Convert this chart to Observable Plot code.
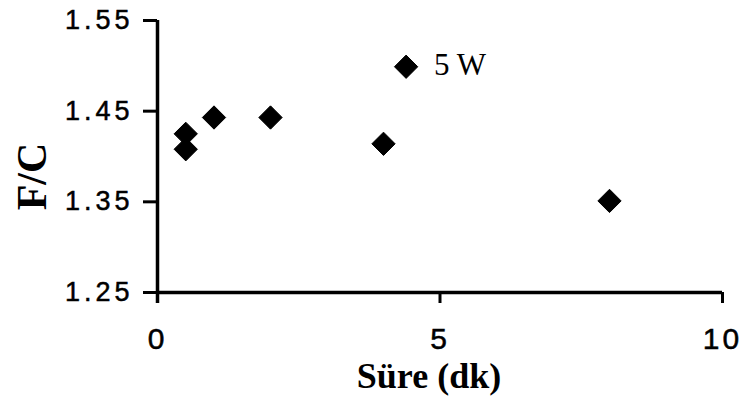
<!DOCTYPE html>
<html>
<head>
<meta charset="utf-8">
<script src="https://cdn.jsdelivr.net/npm/d3@7"></script>
<script src="https://cdn.jsdelivr.net/npm/@observablehq/plot@0.6"></script>
<style>
  html, body { margin: 0; padding: 0; background: #fff; }
  #chart svg { display: block; background: #fff; color: #000; }
  #chart [aria-label="y-axis tick label"] text { letter-spacing: 4px; stroke: #000; stroke-width: 0.5px; }
  #chart [aria-label="x-axis tick label"] text { letter-spacing: 3px; stroke: #000; stroke-width: 0.5px; }
</style>
</head>
<body>
<div id="chart"></div>
<script>
// Data
const sureDk = [0.5, 0.5, 1, 2, 4, 4.4, 8];
const fcValues = [1.425, 1.408, 1.443, 1.443, 1.414, 1.499, 1.351];
const xTicks = [0, 5, 10];
const yTicks = [1.25, 1.35, 1.45, 1.55];
const annotation = [{ x: 4.4, y: 1.499, label: "5 W" }];
const xLabel = "Süre (dk)";
const yLabel = "F/C";

const points = sureDk.map((x, i) => ({ x, y: fcValues[i] }));

const chart = Plot.plot({
  width: 749,
  height: 408,
  marginLeft: 157,
  marginRight: 27,
  marginTop: 20,
  marginBottom: 116,
  x: { domain: [0, 10] },
  y: { domain: [1.25, 1.55] },
  marks: [
    Plot.axisY({
      ticks: yTicks,
      tickFormat: d3.format(".2f"),
      tickSize: 14,
      tickPadding: 10,
      strokeWidth: 3,
      fontSize: 27,
      fontFamily: "Liberation Sans, Arial, sans-serif",
      label: null
    }),
    Plot.axisX({
      ticks: xTicks,
      tickFormat: d3.format("d"),
      tickSize: 11,
      tickPadding: 24,
      strokeWidth: 3,
      fontSize: 30,
      fontFamily: "Liberation Sans, Arial, sans-serif",
      label: null
    }),
    Plot.ruleX([0], { stroke: "#000", strokeWidth: 3.5, insetBottom: -11 }),
    Plot.ruleY([1.25], { stroke: "#000", strokeWidth: 3.5 }),
    Plot.dot(points, {
      x: "x", y: "y",
      symbol: "diamond2",
      r: 10.5,
      fill: "#000",
      stroke: "#000",
      strokeWidth: 1,
      strokeLinejoin: "round"
    }),
    Plot.text(annotation, {
      x: "x", y: "y", text: "label",
      dx: 28, dy: -2,
      textAnchor: "start",
      fontSize: 31,
      fontFamily: "Liberation Serif, Times New Roman, serif",
      fill: "#000"
    }),
    Plot.text([xLabel], {
      frameAnchor: "bottom",
      textAnchor: "middle",
      lineAnchor: "middle",
      dx: -11, dy: 84,
      fontSize: 36,
      fontWeight: "bold",
      fontFamily: "Liberation Serif, Times New Roman, serif",
      fill: "#000"
    }),
    Plot.text([yLabel], {
      frameAnchor: "left",
      textAnchor: "middle",
      lineAnchor: "middle",
      dx: -125, dy: 20,
      rotate: -90,
      fontSize: 42,
      fontWeight: "bold",
      fontFamily: "Liberation Serif, Times New Roman, serif",
      fill: "#000"
    })
  ]
});

document.getElementById("chart").appendChild(chart);
</script>
</body>
</html>
